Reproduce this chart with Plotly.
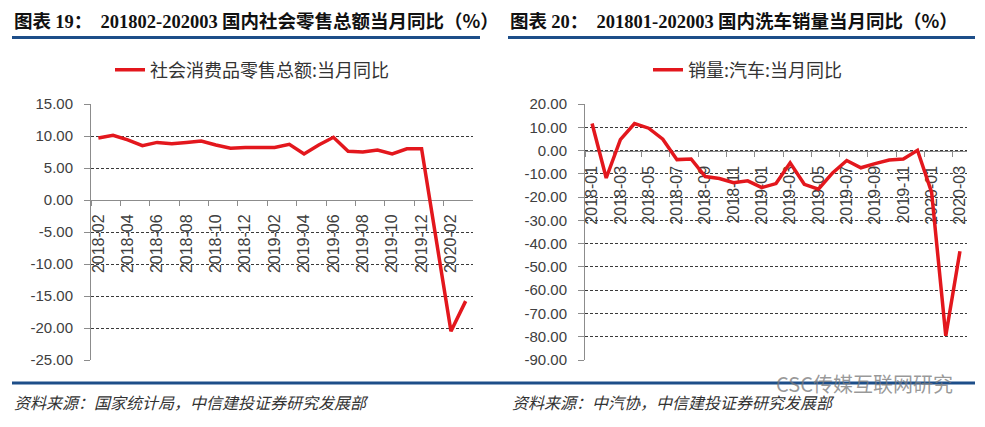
import plotly.graph_objects as go

# ---------------- data ----------------
retail_months = ["2018-02", "2018-03", "2018-04", "2018-05", "2018-06", "2018-07", "2018-08",
                 "2018-09", "2018-10", "2018-11", "2018-12", "2019-01", "2019-02", "2019-03",
                 "2019-04", "2019-05", "2019-06", "2019-07", "2019-08", "2019-09", "2019-10",
                 "2019-11", "2019-12", "2020-01", "2020-02", "2020-03"]
retail_yoy = [9.7, 10.1, 9.4, 8.5, 9.0, 8.8, 9.0, 9.2, 8.6, 8.1, 8.2, None, 8.2, 8.7,
              7.2, 8.6, 9.8, 7.6, 7.5, 7.8, 7.2, 8.0, 8.0, None, -20.5, -15.8]
retail_name = "社会消费品零售总额:当月同比"
retail_yticks = [15, 10, 5, 0, -5, -10, -15, -20, -25]
retail_yticktext = ["15.00", "10.00", "5.00", "0.00", "-5.00", "-10.00", "-15.00", "-20.00", "-25.00"]

car_months = ["2018-01", "2018-02", "2018-03", "2018-04", "2018-05", "2018-06", "2018-07",
              "2018-08", "2018-09", "2018-10", "2018-11", "2018-12", "2019-01", "2019-02",
              "2019-03", "2019-04", "2019-05", "2019-06", "2019-07", "2019-08", "2019-09",
              "2019-10", "2019-11", "2019-12", "2020-01", "2020-02", "2020-03"]
car_yoy = [11.6, -11.8, 4.7, 11.6, 9.6, 4.9, -3.9, -3.6, -11.2, -12.0, -13.8, -13.0, -15.9,
           -14.2, -5.3, -14.5, -16.6, -9.6, -4.3, -7.4, -5.6, -4.1, -3.6, 0.1, -18.0, -79.6, -43.3]
car_name = "销量:汽车:当月同比"
car_yticks = [20, 10, 0, -10, -20, -30, -40, -50, -60, -70, -80, -90]
car_yticktext = ["20.00", "10.00", "0.00", "-10.00", "-20.00", "-30.00", "-40.00",
                 "-50.00", "-60.00", "-70.00", "-80.00", "-90.00"]

title_left = ('<b>图表 <span style="font-family:Liberation Serif">19</span>：&nbsp;&nbsp;'
              '<span style="font-family:Liberation Serif">201802-202003</span> 国内社会零售总额当月同比（%）</b>')
title_right = ('<b>图表 <span style="font-family:Liberation Serif">20</span>：&nbsp;&nbsp;'
               '<span style="font-family:Liberation Serif">201801-202003</span> 国内洗车销量当月同比（%）</b>')
source_left = "资料来源：国家统计局，中信建投证券研究发展部"
source_right = "资料来源：中汽协，中信建投证券研究发展部"
watermark = "CSC传媒互联网研究"

# ---------------- layout helpers ----------------
W, H = 985, 427
def px(x):
    return x / W
def py(y):
    return 1 - y / H

RED = "#E3171D"
GRAY = "#8C8C8C"
TXT = "#404040"
BLUE = "#1D4E89"
FONT = "Liberation Sans, Arial, sans-serif"
CJK = "Noto Sans CJK SC"

ydom = [py(360), py(104)]

def zero_pos(lo, hi):
    return ydom[0] + (0 - lo) / (hi - lo) * (ydom[1] - ydom[0])

fig = go.Figure()
fig.add_trace(go.Scatter(x=retail_months, y=retail_yoy, mode="lines", name=retail_name,
                         line=dict(color=RED, width=3.5), connectgaps=True,
                         xaxis="x", yaxis="y", legend="legend"))
fig.add_trace(go.Scatter(x=car_months, y=car_yoy, mode="lines", name=car_name,
                         line=dict(color=RED, width=3.5), connectgaps=True,
                         xaxis="x2", yaxis="y2", legend="legend2"))

def xaxis(domain, cats, ypos, standoff):
    return dict(domain=domain, type="category", categoryorder="array", categoryarray=cats,
                range=[-0.5, len(cats) - 0.5], tickmode="linear", tick0=0, dtick=2,
                tickson="boundaries", ticks="outside", ticklen=5, tickcolor=GRAY,
                tickangle=-90, tickfont=dict(family=FONT, size=16, color=TXT),
                showline=True, linecolor=GRAY, linewidth=1, showgrid=False, zeroline=False,
                anchor="free", position=ypos, layer="below traces", ticklabelstandoff=standoff,
                automargin=False, fixedrange=True)

def yaxis(rng, tv, tt, anchor_x):
    return dict(domain=ydom, range=rng, tickmode="array", tickvals=tv, ticktext=tt,
                tickfont=dict(family=FONT, size=15, color=TXT), showline=True,
                linecolor=GRAY, linewidth=1, ticks="outside", ticklen=6, tickcolor=GRAY,
                showgrid=True, gridcolor="#3a3a3a", gridwidth=1, griddash="3px,2px",
                zeroline=False, anchor=anchor_x, layer="below traces", ticklabelstandoff=8,
                automargin=False, fixedrange=True)

fig.update_layout(
    width=W, height=H, margin=dict(l=0, r=0, t=0, b=0, pad=0, autoexpand=False),
    paper_bgcolor="white", plot_bgcolor="white",
    xaxis=xaxis([px(91), px(473)], retail_months, zero_pos(-25, 15), 7),
    yaxis=yaxis([-25, 15], retail_yticks, retail_yticktext, "x"),
    xaxis2=xaxis([px(585), px(967)], car_months, zero_pos(-90, 20), 8),
    yaxis2=yaxis([-90, 20], car_yticks, car_yticktext, "x2"),
    legend=dict(x=px(110), y=py(70), xanchor="left", yanchor="middle", bgcolor="rgba(0,0,0,0)",
                font=dict(family=CJK, size=18, color="#333333")),
    legend2=dict(x=px(648), y=py(70), xanchor="left", yanchor="middle", bgcolor="rgba(0,0,0,0)",
                 font=dict(family=CJK, size=18, color="#333333")),
    showlegend=True,
)

shapes = [
    dict(type="line", xref="paper", yref="paper", x0=px(12), x1=px(480), y0=py(37.5), y1=py(37.5),
         line=dict(color=BLUE, width=3)),
    dict(type="line", xref="paper", yref="paper", x0=px(508), x1=px(975), y0=py(37.5), y1=py(37.5),
         line=dict(color=BLUE, width=3)),
    dict(type="line", xref="paper", yref="paper", x0=px(12), x1=px(975), y0=py(383), y1=py(383),
         line=dict(color=BLUE, width=3)),
]
fig.update_layout(shapes=shapes)

ann = [
    dict(text=title_left, x=px(12), y=py(20), xanchor="left", yanchor="middle",
         font=dict(family=CJK, size=18.5, color="#111111")),
    dict(text=title_right, x=px(508), y=py(20), xanchor="left", yanchor="middle",
         font=dict(family=CJK, size=18.5, color="#111111")),
    dict(text="<i>" + source_left + "</i>", x=px(12), y=py(402), xanchor="left", yanchor="middle",
         font=dict(family=CJK, size=16, color="#333333")),
    dict(text="<i>" + source_right + "</i>", x=px(510), y=py(402), xanchor="left", yanchor="middle",
         font=dict(family=CJK, size=16, color="#333333")),
    dict(text=watermark, x=px(955), y=py(383), xanchor="right", yanchor="middle",
         font=dict(family=CJK, size=20, color="rgba(120,120,120,0.75)")),
]
for a in ann:
    a.update(xref="paper", yref="paper", showarrow=False)
fig.update_layout(annotations=ann)

fig.write_html("out.html", config={"displayModeBar": False},
               post_script="document.body.style.margin='0px';")
